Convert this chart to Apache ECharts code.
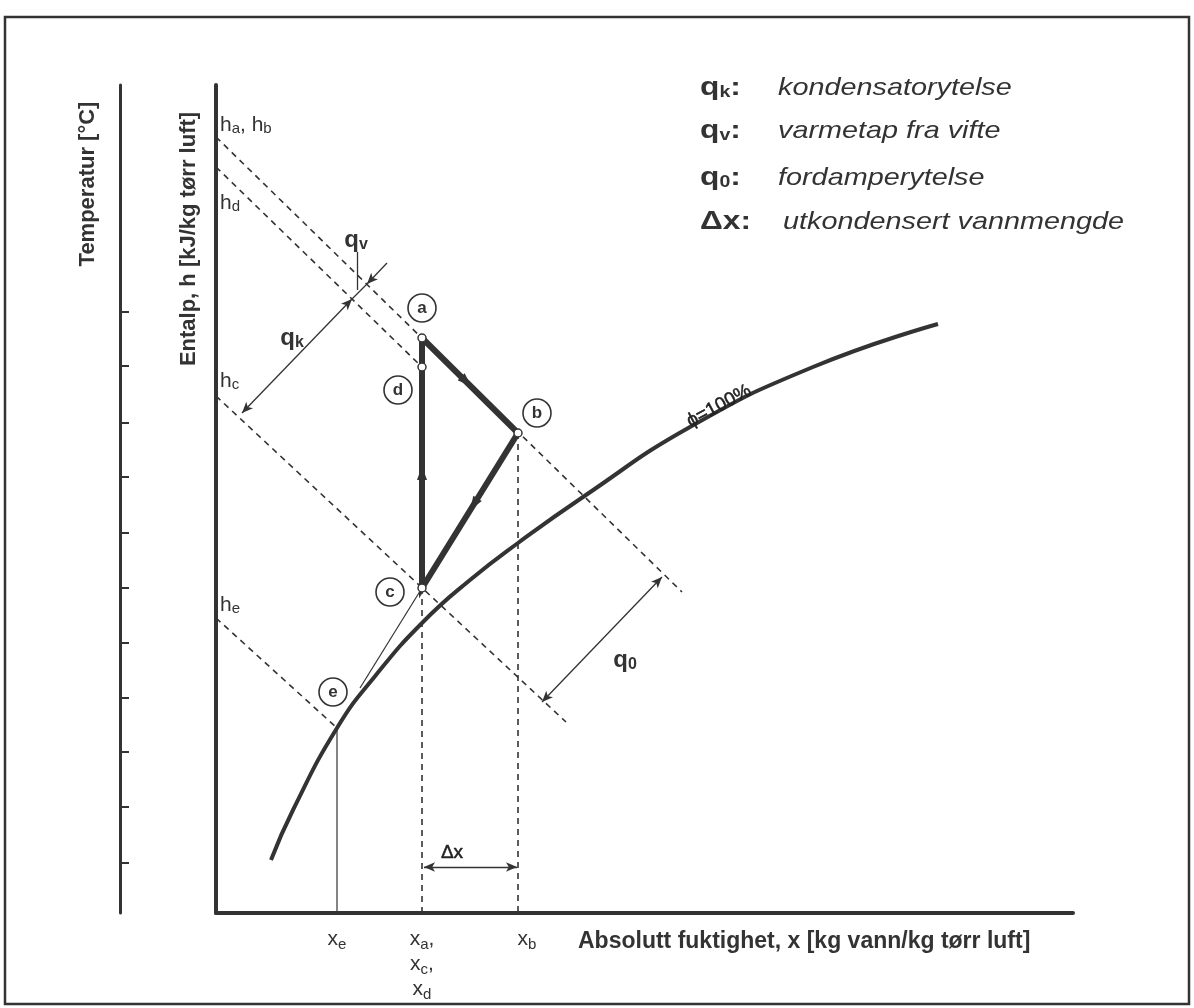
<!DOCTYPE html>
<html><head><meta charset="utf-8">
<script src="https://cdn.jsdelivr.net/npm/echarts@6/dist/echarts.min.js"></script>
<style>html,body{margin:0;padding:0;background:#fff}#c{width:1194px;height:1008px}</style>
</head><body><div id="c"></div>
<script>
// ---- Diagram data (diagram units: x = absolute humidity, y = enthalpy / temperature) ----
const stateA = [206, 575];
const stateB = [302, 480];
const stateC = [206, 325];
const stateD = [206, 546];
const stateE = [121, 185];
const saturationCurve = [[55,53],[77,103],[121,185],[160,238],[207,291],[254,333],[302,370],[367,416],[474,486],[597,546],[722,589]];
const lineHaHb = [[0,776],[466,321]];
const lineHd = [[0,746],[206,546]];
const lineHc = [[0,517],[350,191]];
const lineHe = [[0,295],[121,185]];
const tangentCE = [[206,325],[144,225]];
const temperatureTicks = [601,547,490,436,380,325,270,215,161,106,50];
const enthalpyTickValues = [788,710,532,308];
const enthalpyTickLabels = ['{m|h}{s|a}{m|, h}{s|b}','{m|h}{s|d}','{m|h}{s|c}','{m|h}{s|e}'];
const humidityTickValues = [121,206,302];
const humidityTickLabels = ['{m|x}{s|e}','{m|x}{s|a}{m|,}\n{m|x}{s|c}{m|,}\n{m|x}{s|d}','{p|x}{s|b}'];
const qkArrow = [[26,500],[136,614]];
const qvArrow = [[171,650],[151,629]];
const q0Arrow = [[326,211],[446,336]];
const dxArrow = [[208,46],[301,46]];
const qvLeader = [[141,661],[141,623]];
const legendSymbols = ['{q|q}{s|k}{q|:}','{q|q}{s|v}{q|:}','{q|q}{s|0}{q|:}','{q|Δx:}'];
const legendTexts = ['kondensatorytelse','varmetap fra vifte','fordamperytelse','utkondensert vannmengde'];
const annotationTexts = [
  {pos:[76,575], text:'{q|q}{s|k}'},
  {pos:[140,673], text:'{q|q}{s|v}'},
  {pos:[409,253], text:'{q|q}{s|0}'},
  {pos:[236,60], text:'{r|Δx}'},
  {pos:[503,507], text:'{r|ϕ=100%}', rotate:28}
];

// ---- Build ----
const INK = '#333';
const FONT = '"Liberation Sans", Arial, Helvetica, sans-serif';
function along(p,q,t){return [p[0]+(q[0]-p[0])*t, p[1]+(q[1]-p[1])*t];}
function rotDeg(p,q){return Math.atan2(q[1]-p[1], q[0]-p[0])*180/Math.PI - 90;}

const cycle = [stateA, stateB, stateC, stateA];
const cycleArrows = [[stateA,stateB],[stateB,stateC],[stateC,stateA]].map(function(s){
  return {value: along(s[0], s[1], 0.46), symbolRotate: rotDeg(s[0], s[1])};
});
const circleOffsets = {a:[0,30], d:[-24,-23], b:[19,20], c:[-32,-4], e:[-4,36]};
const stateMap = {a:stateA, b:stateB, c:stateC, d:stateD, e:stateE};
const circleLabels = Object.keys(circleOffsets).map(function(k){
  const p = stateMap[k], o = circleOffsets[k];
  return {value:[p[0]+o[0], p[1]+o[1]], name:k};
});

const dashed = {color: INK, width: 1.6, type: [6, 5]};
function ml(pair, s1, s2){
  return [{coord: pair[0], symbol: s1}, {coord: pair[1], symbol: s2}];
}

const subRich = {
  m: {fontFamily: FONT, fontSize: 21, color: INK},
  p: {fontFamily: FONT, fontSize: 21, color: INK, padding:[0,0,0,18]},
  s: {fontFamily: FONT, fontSize: 15, color: INK, verticalAlign: 'bottom', padding:[8,0,0,0]}
};
const annRich = {
  q: {fontFamily: FONT, fontSize: 24, fontWeight: 'bold', color: INK},
  s: {fontFamily: FONT, fontSize: 16, fontWeight: 'bold', color: INK, verticalAlign: 'bottom', padding:[9,0,0,0]},
  r: {fontFamily: FONT, fontSize: 19, color: '#222', textBorderColor: '#222', textBorderWidth: 0.5}
};
const legendRich = {
  q: {fontFamily: FONT, fontSize: 26, fontWeight: 'bold', color: INK},
  s: {fontFamily: FONT, fontSize: 16, fontWeight: 'bold', color: INK, verticalAlign: 'bottom', padding:[10,0,0,0]}
};

const graphics = [
  {type:'rect', shape:{x:5, y:17, width:1184, height:987}, style:{fill:'none', stroke:INK, lineWidth:2.5}, z:-1},
  {type:'text', x:88, y:184, rotation:Math.PI/2, style:{text:'Temperatur [°C]', font:'bold 22px ' + FONT, fill:INK, textAlign:'center', textVerticalAlign:'middle'}},
  {type:'text', x:189, y:239, rotation:Math.PI/2, style:{text:'Entalp, h [kJ/kg tørr luft]', font:'bold 22px ' + FONT, fill:INK, textAlign:'center', textVerticalAlign:'middle'}},
  {type:'text', x:578, y:942, style:{text:'Absolutt fuktighet, x [kg vann/kg tørr luft]', font:'bold 23px ' + FONT, fill:INK, textAlign:'left', textVerticalAlign:'middle'}}
];
const legendRows = [88, 131, 178, 222];
legendSymbols.forEach(function(t, i){
  graphics.push({type:'text', x:700, y:legendRows[i], scaleX:1.22, style:{text:t, rich:legendRich, textAlign:'left', textVerticalAlign:'middle', fill:INK}});
  graphics.push({type:'text', x:i===3?783:778, y:legendRows[i], scaleX:1.2, style:{text:legendTexts[i], font:'italic 24px ' + FONT, fill:INK, textAlign:'left', textVerticalAlign:'middle'}});
});

const option = {
  animation: false,
  backgroundColor: '#fff',
  grid: {left:216, top:85, right:121, bottom:95},
  xAxis: {
    type:'value', min:0, max:857,
    axisLine:{show:true, lineStyle:{color:INK, width:4}},
    axisTick:{show:false}, splitLine:{show:false},
    axisLabel:{show:true, customValues: humidityTickValues, margin:14, lineHeight:25,
      formatter:function(v){ return humidityTickLabels[humidityTickValues.indexOf(v)] || ''; }, rich: subRich}
  },
  yAxis: [{
    type:'value', min:0, max:828, position:'left',
    axisLine:{show:true, lineStyle:{color:INK, width:4}},
    axisTick:{show:false}, splitLine:{show:false},
    axisLabel:{show:true, inside:true, margin:4, customValues: enthalpyTickValues,
      formatter:function(v){ return enthalpyTickLabels[enthalpyTickValues.indexOf(v)] || ''; }, rich: subRich}
  },{
    type:'value', min:0, max:828, position:'left', offset:96,
    axisLine:{show:true, lineStyle:{color:INK, width:3}},
    axisTick:{show:true, inside:true, length:9, customValues: temperatureTicks, lineStyle:{color:INK, width:2}},
    axisLabel:{show:false}, splitLine:{show:false}
  }],
  graphic: graphics,
  series: [
    {type:'line', name:'foot', data:[[-96,0],[-66,0]], clip:false, symbol:'none', lineStyle:{color:INK, width:3}},
    {type:'line', name:'phi100', data:saturationCurve, smooth:0.5, symbol:'none', lineStyle:{color:INK, width:4}},
    {type:'line', name:'hab', data:lineHaHb, symbol:'none', lineStyle:dashed},
    {type:'line', name:'hd', data:lineHd, symbol:'none', lineStyle:dashed},
    {type:'line', name:'hc', data:lineHc, symbol:'none', lineStyle:dashed},
    {type:'line', name:'he', data:lineHe, symbol:'none', lineStyle:dashed},
    {type:'line', name:'xa', data:[stateC, [stateC[0], 0]], symbol:'none', lineStyle:dashed},
    {type:'line', name:'xb', data:[stateB, [stateB[0], 0]], symbol:'none', lineStyle:dashed},
    {type:'line', name:'xe', data:[stateE, [stateE[0], 0]], symbol:'none', lineStyle:{color:INK, width:1.2}},
    {type:'line', name:'tangent', data:tangentCE, symbol:'none', lineStyle:{color:INK, width:1.2}},
    {type:'line', name:'arrows', data:[], symbol:'none',
      markLine:{silent:true, symbolSize:[7,11], label:{show:false}, lineStyle:{color:INK, width:1.3, type:'solid'},
        data:[ml(qkArrow,'arrow','arrow'), ml(qvArrow,'none','arrow'), ml([qvArrow[1], qkArrow[1]],'none','none'),
              ml(q0Arrow,'arrow','arrow'), ml(dxArrow,'arrow','arrow'), ml(qvLeader,'none','none')]}},
    {type:'line', name:'cycle', data:cycle, symbol:'none', lineStyle:{color:INK, width:6, join:'miter'}},
    {type:'scatter', name:'cycleArrows', data:cycleArrows, symbol:'triangle', symbolSize:[10,14], itemStyle:{color:INK, opacity:1}, z:5},
    {type:'scatter', name:'states', data:[stateA, stateB, stateC, stateD], symbol:'circle', symbolSize:8,
      itemStyle:{color:'#fff', borderColor:INK, borderWidth:1.5, opacity:1}, z:6},
    {type:'scatter', name:'circles', data:circleLabels, symbol:'circle', symbolSize:28,
      itemStyle:{color:'#fff', borderColor:INK, borderWidth:1.6, opacity:1}, z:6,
      label:{show:true, position:'inside', formatter:function(p){return p.name;}, fontFamily:FONT, fontWeight:'bold', fontSize:17, color:INK}},
    {type:'scatter', name:'texts', data:annotationTexts.map(function(a){return {value:a.pos, label:{rotate:a.rotate||0, formatter:a.text}};}),
      symbolSize:0, z:7, itemStyle:{opacity:1},
      label:{show:true, position:'inside', rich:annRich, color:INK}}
  ]
};
const chart = echarts.init(document.getElementById('c'));
chart.setOption(option);
</script></body></html>
